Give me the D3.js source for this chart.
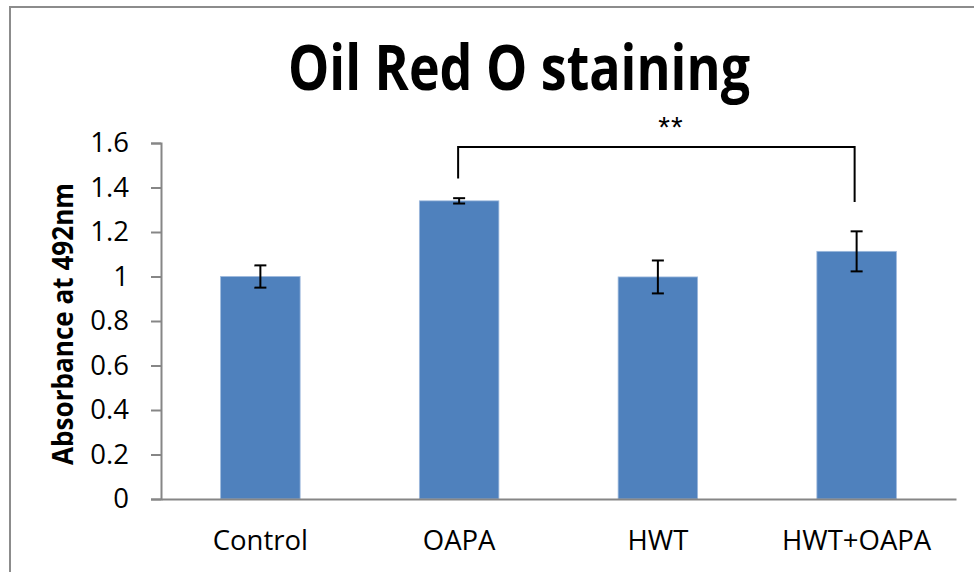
<!DOCTYPE html>
<html><head><meta charset="utf-8">
<script src="https://cdn.jsdelivr.net/npm/d3@7"></script>
<style>html,body{margin:0;padding:0;background:#fff;}svg{display:block;}</style>
</head><body>
<svg id="chart" width="974" height="572"></svg>
<script>
const categories = ["Control", "OAPA", "HWT", "HWT+OAPA"];
const values = [1.0, 1.34, 0.998, 1.113];
const errors = [0.05, 0.012, 0.074, 0.09];
const yTicks = [0, 0.2, 0.4, 0.6, 0.8, 1.0, 1.2, 1.4, 1.6];
const yTickLabels = ["0", "0.2", "0.4", "0.6", "0.8", "1", "1.2", "1.4", "1.6"];
const titleText = "Oil Red O staining";
const yAxisTitle = "Absorbance at 492nm";
const sigPair = ["OAPA", "HWT+OAPA"];
const sigLevels = [1.44, 1.582, 1.335]; // left end, top, right end (data units)
const sigLabel = "**";

const svg = d3.select("#chart");
const font = "'Open Sans', Lato, sans-serif";

// frame
svg.append("rect").attr("x", 10).attr("y", 7).attr("width", 1000).attr("height", 600)
  .attr("fill", "none").attr("stroke", "#8c8c8c").attr("stroke-width", 2);

const x = d3.scaleBand().domain(categories).range([161, 956]).paddingInner(0.6).paddingOuter(0.3);
const y = d3.scaleLinear().domain([0, 1.6]).range([499, 143]);

// title
svg.append("text").attr("x", 519).attr("y", 90).attr("text-anchor", "middle")
  .attr("font-family", font).attr("font-weight", "bold").attr("font-size", 63)
  .attr("textLength", 462).attr("lengthAdjust", "spacingAndGlyphs")
  .text(titleText);

// bars
svg.append("g").selectAll("rect").data(categories).join("rect")
  .attr("x", d => x(d)).attr("width", x.bandwidth())
  .attr("y", (d, i) => y(values[i])).attr("height", (d, i) => y(0) - y(values[i]))
  .attr("fill", "#4f81bd").attr("stroke", "#9db9dc").attr("stroke-width", 0.8);

// y axis
const yAxis = d3.axisLeft(y).tickValues(yTicks).tickFormat((d, i) => yTickLabels[i])
  .tickSize(10).tickPadding(22);
const gy = svg.append("g").attr("transform", "translate(161,0)").call(yAxis);
gy.select(".domain").attr("stroke", "#868686").attr("stroke-width", 2);
gy.selectAll(".tick line").attr("stroke", "#868686").attr("stroke-width", 2);
gy.selectAll(".tick text").attr("font-family", font).attr("font-size", 27.5).attr("fill", "#000");

// x axis
const xAxis = d3.axisBottom(x).tickSize(0).tickPadding(26);
const gx = svg.append("g").attr("transform", "translate(0,499)").call(xAxis);
gx.select(".domain").attr("stroke", "#868686").attr("stroke-width", 2);
gx.selectAll(".tick text").attr("font-family", font).attr("font-size", 27.5).attr("fill", "#000")
  .attr("dy", "0.9em");

// error bars
const eb = svg.append("g").attr("stroke", "#000").attr("stroke-width", 2).attr("fill", "none");
categories.forEach((c, i) => {
  const cx = x(c) + x.bandwidth() / 2;
  const top = y(values[i] + errors[i]), bot = y(values[i] - errors[i]);
  eb.append("line").attr("x1", cx).attr("x2", cx).attr("y1", top).attr("y2", bot);
  eb.append("line").attr("x1", cx - 6).attr("x2", cx + 6).attr("y1", top).attr("y2", top);
  eb.append("line").attr("x1", cx - 6).attr("x2", cx + 6).attr("y1", bot).attr("y2", bot);
});

// y axis title
svg.append("text").attr("transform", "translate(73,324) rotate(-90)").attr("text-anchor", "middle")
  .attr("font-family", font).attr("font-weight", "bold").attr("font-size", 28)
  .attr("textLength", 282).attr("lengthAdjust", "spacingAndGlyphs")
  .text(yAxisTitle);

// significance bracket
const xl = x(sigPair[0]) + x.bandwidth() / 2 - 1;
const xr = x(sigPair[1]) + x.bandwidth() / 2 - 2;
svg.append("path")
  .attr("d", `M${xl},${y(sigLevels[0])}V${y(sigLevels[1])}H${xr}V${y(sigLevels[2])}`)
  .attr("fill", "none").attr("stroke", "#000").attr("stroke-width", 2);
svg.append("text").attr("x", 671).attr("y", 137).attr("text-anchor", "middle")
  .attr("font-family", "'Liberation Sans', Arial, sans-serif").attr("font-size", 30)
  .attr("letter-spacing", 1).text(sigLabel);
</script>
</body></html>
